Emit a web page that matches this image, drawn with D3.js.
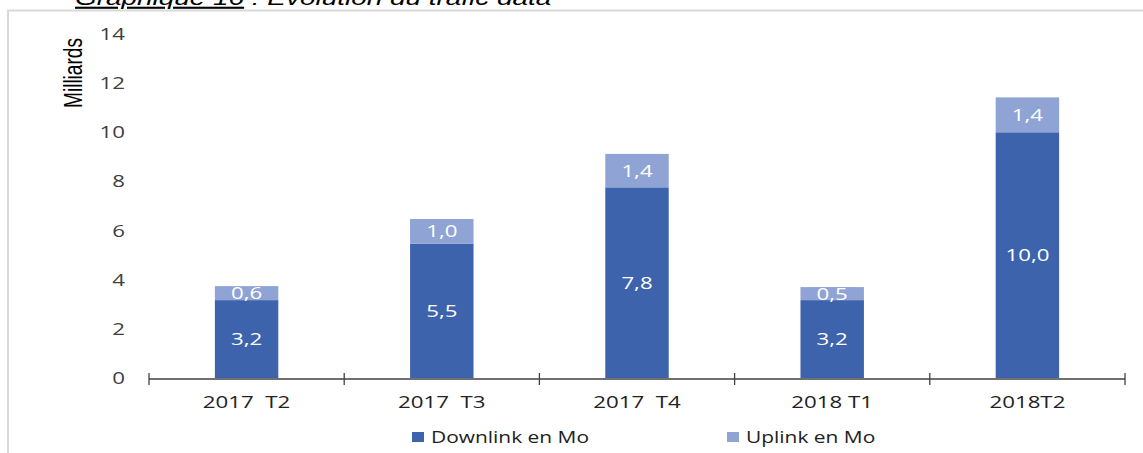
<!DOCTYPE html>
<html>
<head>
<meta charset="utf-8">
<script src="https://cdn.jsdelivr.net/npm/d3@7"></script>
<style>
  body { margin: 0; background: #fff; }
  text { font-family: "Open Sans", "DejaVu Sans", sans-serif; }
</style>
</head>
<body>
<svg id="chart" width="1143" height="453"></svg>
<script>
const categories = ["2017  T2", "2017  T3", "2017  T4", "2018 T1", "2018T2"];
const downlink = [3.17, 5.46, 7.76, 3.17, 10.0];
const uplink = [0.57, 1.01, 1.36, 0.53, 1.42];
const yTicks = [0, 2, 4, 6, 8, 10, 12, 14];
const seriesNames = ["Downlink en Mo", "Uplink en Mo"];
const colors = ["#3d63ad", "#8fa3d5"];

const svg = d3.select("#chart");
const margin = { top: 34, left: 149, right: 18, bottom: 75 };
const width = +svg.attr("width");
const height = +svg.attr("height");
const sx = 1.35; // the original text is drawn wide

// places a text at (x,y), stretched horizontally
const place = (x, y) => `translate(${x},${y}) scale(${sx},1)`;

// frame
svg.append("path")
  .attr("d", "M8,453 L8,10.5 L1143,10.5")
  .attr("fill", "none")
  .attr("stroke", "#d9d9d9")
  .attr("stroke-width", 2);

// title (cut off at top, like the original)
const title = svg.append("text")
  .attr("transform", `translate(75,5) scale(1.33,1)`)
  .style("font-family", "'Liberation Sans', Arial, sans-serif")
  .style("font-style", "italic")
  .style("font-size", "21px")
  .attr("fill", "#000");
title.append("tspan").style("text-decoration", "underline").text("Graphique 16");
title.append("tspan").text(" : Evolution du trafic data");

const x = d3.scaleBand()
  .domain(categories)
  .range([margin.left, width - margin.right])
  .paddingInner(0.675)
  .paddingOuter(0.3375);

const y = d3.scaleLinear()
  .domain([0, 14])
  .range([height - margin.bottom, margin.top]);

const data = categories.map((c, i) => ({ cat: c, down: downlink[i], up: uplink[i] }));
const stack = d3.stack().keys(["down", "up"])(data);

// y tick labels
svg.append("g").selectAll("text")
  .data(yTicks).join("text")
  .attr("transform", d => place(125, y(d)))
  .attr("dy", "0.36em")
  .attr("text-anchor", "end")
  .style("font-size", "16.5px")
  .attr("fill", "#404040")
  .text(d => d);

// axis title
svg.append("text")
  .attr("transform", "translate(82,73) rotate(-90)")
  .attr("text-anchor", "middle")
  .attr("textLength", 70)
  .attr("lengthAdjust", "spacingAndGlyphs")
  .style("font-family", "'Liberation Sans Narrow', 'Liberation Sans', Arial, sans-serif")
  .style("font-size", "25px")
  .attr("fill", "#000")
  .text("Milliards");

// bars
svg.append("g").selectAll("g")
  .data(stack).join("g")
  .attr("fill", (d, i) => colors[i])
  .selectAll("rect")
  .data(d => d).join("rect")
  .attr("x", d => x(d.data.cat))
  .attr("y", d => y(d[1]))
  .attr("width", x.bandwidth())
  .attr("height", d => y(d[0]) - y(d[1]));

// value labels
svg.append("g").selectAll("g")
  .data(stack).join("g")
  .selectAll("text")
  .data(d => d).join("text")
  .attr("transform", d => place(x(d.data.cat) + x.bandwidth() / 2, (y(d[0]) + y(d[1])) / 2))
  .attr("dy", "0.36em")
  .attr("text-anchor", "middle")
  .style("font-size", "16.5px")
  .attr("fill", "#fff")
  .text(d => d3.format(".1f")(d[1] - d[0]).replace(".", ","));

// x axis
const step = x.step();
const edges = d3.range(categories.length + 1).map(i => margin.left + i * step);
const axisY = y(0) + 1;
svg.append("line")
  .attr("x1", margin.left).attr("x2", width - margin.right)
  .attr("y1", axisY).attr("y2", axisY)
  .attr("stroke", "#404040").attr("stroke-width", 1.3);
svg.append("g").selectAll("line")
  .data(edges).join("line")
  .attr("x1", d => d).attr("x2", d => d)
  .attr("y1", axisY - 6).attr("y2", axisY + 6)
  .attr("stroke", "#404040").attr("stroke-width", 1.3);

svg.append("g").selectAll("text")
  .data(categories).join("text")
  .attr("transform", d => place(x(d) + x.bandwidth() / 2, 408))
  .attr("text-anchor", "middle")
  .style("font-size", "16.5px")
  .style("white-space", "pre")
  .attr("xml:space", "preserve")
  .attr("fill", "#222")
  .text(d => d);

// legend
const legendX = [412, 727];
const legend = svg.append("g").selectAll("g")
  .data(seriesNames).join("g")
  .attr("transform", (d, i) => `translate(${legendX[i]},432)`);
legend.append("rect")
  .attr("width", 12).attr("height", 10)
  .attr("fill", (d, i) => colors[i]);
legend.append("text")
  .attr("transform", place(19, 5))
  .attr("dy", "0.36em")
  .style("font-size", "15.5px")
  .attr("fill", "#222")
  .text(d => d);
</script>
</body>
</html>
